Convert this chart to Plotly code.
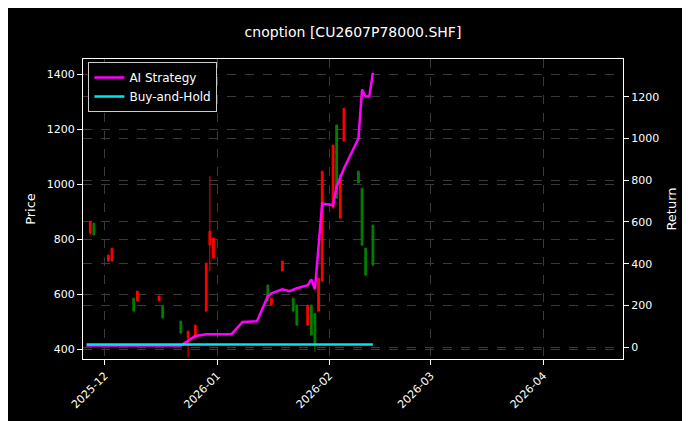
import plotly.graph_objects as go

# K线数据
candle_dates = ['2025-11-27', '2025-11-28', '2025-12-02', '2025-12-03', '2025-12-09', '2025-12-10',
                '2025-12-16', '2025-12-17', '2025-12-22', '2025-12-24', '2025-12-26', '2025-12-29',
                '2025-12-30', '2025-12-31', '2026-01-15', '2026-01-16', '2026-01-19', '2026-01-22',
                '2026-01-23', '2026-01-26', '2026-01-27', '2026-01-28', '2026-01-29', '2026-01-30',
                '2026-02-02', '2026-02-03', '2026-02-04', '2026-02-05', '2026-02-09', '2026-02-10',
                '2026-02-11', '2026-02-13']
opens = [822, 858, 720, 720, 585, 575, 575, 556, 502, 440, 440, 538, 778, 731, 633, 560, 684, 585,
         560, 487, 560, 530, 538, 647, 913, 1215, 876, 1156, 1047, 985, 767, 851]
closes = [865, 815, 742, 767, 538, 611, 593, 513, 458, 465, 487, 713, 829, 804, 575, 585, 720, 538,
          487, 560, 451, 420, 658, 1047, 1142, 949, 1033, 1276, 1004, 778, 669, 705]
highs = [865, 858, 742, 767, 585, 611, 593, 556, 502, 465, 487, 713, 1029, 804, 633, 585, 720, 585,
         560, 560, 560, 530, 658, 1047, 1142, 1215, 1033, 1276, 1047, 985, 767, 851]
lows = [815, 815, 720, 720, 538, 575, 575, 513, 458, 370, 440, 538, 684, 731, 575, 560, 684, 538,
        487, 487, 451, 390, 538, 647, 913, 949, 876, 1156, 1004, 778, 669, 705]

# 收益曲线
strat_dates = ['2025-11-26', '2025-12-22', '2025-12-26', '2025-12-29', '2026-01-05', '2026-01-06',
               '2026-01-08', '2026-01-12', '2026-01-13', '2026-01-14', '2026-01-15', '2026-01-16',
               '2026-01-19', '2026-01-21', '2026-01-23', '2026-01-26', '2026-01-27', '2026-01-28',
               '2026-01-30', '2026-02-02', '2026-02-03', '2026-02-05', '2026-02-09', '2026-02-10',
               '2026-02-11', '2026-02-12', '2026-02-13']
strat_returns = [8, 8, 53, 62, 62, 81, 120, 124, 163, 206, 244, 258, 277, 268, 282, 297, 325, 277,
                 689, 680, 770, 856, 1000, 1234, 1201, 1201, 1315]
bh_dates = ['2025-11-26', '2026-02-13']
bh_returns = [12, 12]

fig = go.Figure()
fig.add_trace(go.Candlestick(
    x=candle_dates, open=opens, high=highs, low=lows, close=closes,
    increasing=dict(line=dict(color='red', width=1), fillcolor='red'),
    decreasing=dict(line=dict(color='green', width=1), fillcolor='green'),
    whiskerwidth=0, showlegend=False, yaxis='y'))
fig.add_trace(go.Scatter(x=strat_dates, y=strat_returns, mode='lines', name='AI Strategy',
                         line=dict(color='#ff00ff', width=2.5), yaxis='y2'))
fig.add_trace(go.Scatter(x=bh_dates, y=bh_returns, mode='lines', name='Buy-and-Hold',
                         line=dict(color='#00e5ee', width=2.5), yaxis='y2'))

grid = dict(showgrid=True, gridcolor='#3a3a3a', griddash='dash', gridwidth=0.5,
            zeroline=False, automargin=False)
fig.update_layout(
    width=690, height=421,
    paper_bgcolor='black', plot_bgcolor='black',
    font=dict(family='DejaVu Sans', color='white', size=11),
    title=dict(text='cnoption [CU2607P78000.SHF]', x=0.5, y=0.955, xanchor='center',
               font=dict(size=14)),
    margin=dict(l=75, r=75, t=51, b=70),
    xaxis=dict(type='date', range=['2025-11-25', '2026-04-23'], tickformat='%Y-%m',
               tickvals=['2025-12-01', '2026-01-01', '2026-02-01', '2026-03-01', '2026-04-01'],
               tickangle=-45, rangeslider=dict(visible=False), showline=True, linecolor='white',
               mirror=True, ticks='outside', tickcolor='white', **grid),
    yaxis=dict(title=dict(text='Price', standoff=8), range=[364, 1455],
               tickvals=[400, 600, 800, 1000, 1200, 1400],
               showline=True, linecolor='white', ticks='outside', tickcolor='white', **grid),
    yaxis2=dict(title=dict(text='Return', standoff=8), overlaying='y', side='right',
                range=[-57, 1381], tickvals=[0, 200, 400, 600, 800, 1000, 1200], showline=True,
                linecolor='white', ticks='outside', tickcolor='white', **grid),
    legend=dict(x=0.01, y=0.99, xanchor='left', yanchor='top', bgcolor='black',
                bordercolor='#cccccc', borderwidth=1, font=dict(size=12)),
)

fig.write_html("out.html")
